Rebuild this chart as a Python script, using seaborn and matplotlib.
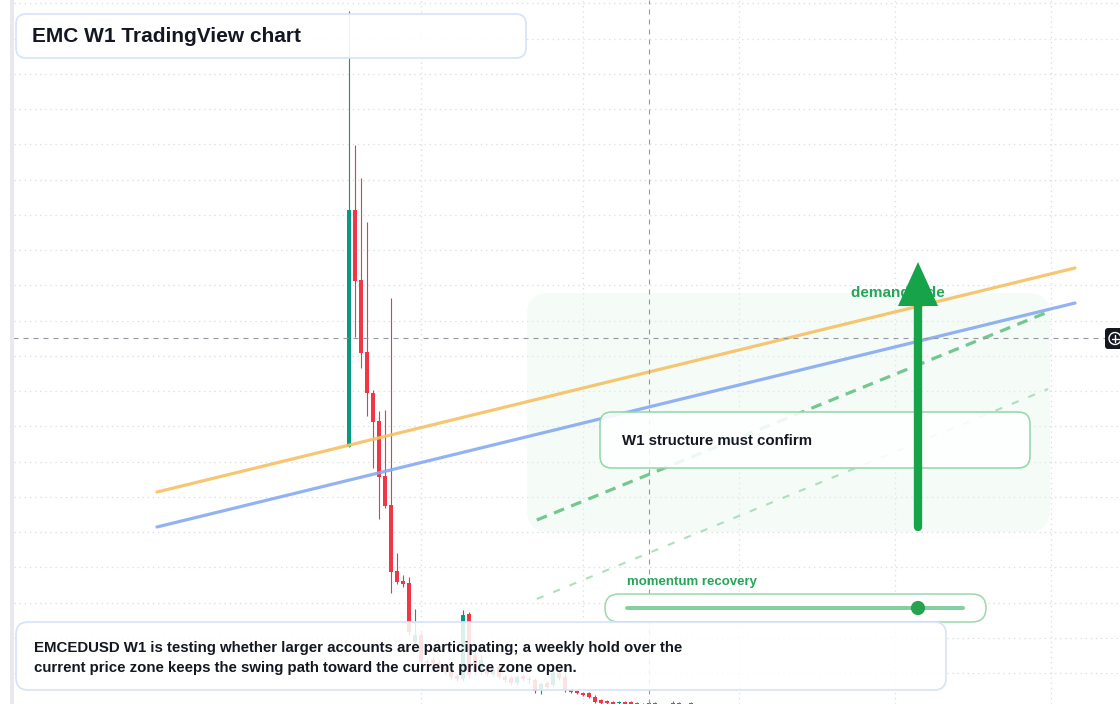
import numpy as np
import pandas as pd
import matplotlib
matplotlib.use("Agg")
import matplotlib.pyplot as plt
import seaborn as sns
from matplotlib.patches import FancyBboxPatch, Rectangle, Polygon, Circle

# weekly EMCEDUSD candles (price)
opens = [3.706, 7.067, 6.074, 5.053, 4.472, 4.074, 3.294, 2.883, 1.947, 1.805,
         1.777, 0.940, 1.039, 0.670, 0.684, 0.642, 0.585, 0.514, 0.457, 0.415,
         1.337, 0.755, 0.514, 0.571, 0.486, 0.585, 0.443, 0.429, 0.358, 0.457,
         0.401, 0.401, 0.259, 0.358, 0.330, 0.500, 0.443, 0.259, 0.245, 0.216,
         0.216, 0.160, 0.117, 0.103, 0.089, 0.074, 0.089, 0.089, 0.074, 0.060,
         0.046, 0.074, 0.046, 0.046, 0.074, 0.074, 0.046, 0.074]
highs = [9.890, 7.989, 7.521, 6.897, 4.514, 4.216, 4.230, 5.819, 2.202, 1.890,
         1.862, 1.408, 1.110, 0.713, 0.727, 0.684, 0.628, 0.543, 0.486, 1.394,
         1.365, 0.826, 0.755, 0.613, 0.571, 0.613, 0.472, 0.457, 0.472, 0.486,
         0.457, 0.429, 0.372, 0.387, 0.543, 0.528, 0.514, 0.273, 0.259, 0.230,
         0.230, 0.188, 0.131, 0.117, 0.103, 0.103, 0.103, 0.103, 0.089, 0.074,
         0.103, 0.089, 0.060, 0.060, 0.103, 0.089, 0.060, 0.089]
lows = [3.706, 5.266, 4.826, 4.145, 3.408, 2.684, 2.840, 1.635, 1.762, 1.720,
        1.039, 0.897, 0.628, 0.613, 0.599, 0.543, 0.486, 0.415, 0.387, 0.387,
        0.429, 0.472, 0.472, 0.457, 0.457, 0.415, 0.372, 0.330, 0.330, 0.387,
        0.344, 0.216, 0.202, 0.273, 0.301, 0.401, 0.230, 0.216, 0.202, 0.174,
        0.145, 0.074, 0.060, 0.060, 0.046, 0.046, 0.032, 0.032, 0.018, 0.018,
        0.032, 0.018, 0.010, 0.010, 0.018, 0.018, 0.010, 0.018]
closes = [7.067, 6.060, 5.039, 4.472, 4.060, 3.280, 2.869, 1.933, 1.791, 1.762,
          1.082, 1.039, 0.656, 0.642, 0.642, 0.571, 0.514, 0.443, 0.415, 1.323,
          0.472, 0.514, 0.684, 0.486, 0.543, 0.443, 0.401, 0.358, 0.443, 0.415,
          0.415, 0.245, 0.344, 0.301, 0.500, 0.429, 0.259, 0.230, 0.216, 0.188,
          0.160, 0.089, 0.074, 0.074, 0.060, 0.089, 0.046, 0.046, 0.032, 0.032,
          0.074, 0.032, 0.018, 0.018, 0.032, 0.032, 0.018, 0.032]

# drawn trend lines (bar index, price)
trend_x = [-32, 121]
resistance_y = [3.067, 6.245]
support_y = [2.571, 5.748]
proj_x = [31.3, 116.5]
proj_upper = [2.670, 5.621]
proj_lower = [1.550, 4.528]

grid_prices = np.arange(0.5, 10.01, 0.5)
grid_bars = [12, 39, 65, 91, 117]
cross_bar, cross_price = 50, 5.252

title = "EMC W1 TradingView chart"
note_lines = ["EMCEDUSD W1 is testing whether larger accounts are participating; a weekly hold over the",
              "current price zone keeps the swing path toward the current price zone open."]

GREEN, RED = "#089981", "#f23645"
TXT = "#131722"
OK_GREEN = "#25a55a"

sns.set_theme(style="white")
plt.rcParams["font.family"] = ["Liberation Sans", "DejaVu Sans"]

W, H = 1120, 704
fig = plt.figure(figsize=(11.2, 7.04), dpi=100)
ax = fig.add_axes([14 / W, 0, 1 - 14 / W, 1])
ov = fig.add_axes([0, 0, 1, 1], zorder=5)
ov.set_xlim(0, W)
ov.set_ylim(H, 0)
ov.axis("off")
ov.patch.set_alpha(0)

# grid
for p in grid_prices:
    ax.axhline(p, color="#dcdfe4", lw=0.9, ls=(0, (1.1, 3.0)), zorder=0)
for b in grid_bars:
    ax.axvline(b, color="#dcdfe4", lw=0.9, ls=(0, (1.1, 3.0)), zorder=0)

# demand zone shading
zone = FancyBboxPatch((527, 293), 523, 239, boxstyle="round,pad=0,rounding_size=22",
                      transform=ov.transData, fc="#e6f7eb", alpha=0.4, ec="none", zorder=1)
ax.add_patch(zone)

# candles
df = pd.DataFrame(dict(open=opens, high=highs, low=lows, close=closes))
df["idx"] = np.arange(len(df))
up = df["close"] >= df["open"]
cols = np.where(up, GREEN, RED)
ax.vlines(df["idx"], df["low"], df["high"], colors=cols, lw=0.8, zorder=3)
body = (df["close"] - df["open"]).abs().clip(lower=0.016)
ax.bar(df["idx"], body, bottom=df[["open", "close"]].min(axis=1), width=0.82,
       color=cols, linewidth=0, zorder=4)

# trend lines
sns.lineplot(x=trend_x, y=resistance_y, ax=ax, color="#f6c064", lw=2.3, alpha=0.9, zorder=5)
sns.lineplot(x=trend_x, y=support_y, ax=ax, color="#86aaf0", lw=2.3, alpha=0.9, zorder=5)
ax.plot(proj_x, proj_upper, color="#5cbf7e", lw=2.3, alpha=0.85, ls=(0, (3.4, 2.4)), zorder=5)
ax.plot(proj_x, proj_lower, color="#a6dcb8", lw=1.5, alpha=0.9, ls=(0, (3.5, 5.0)), zorder=5)

# crosshair
ax.hlines(cross_price, -56, 126, color="#9598a1", lw=0.8, ls=(0, (4.5, 4.5)), zorder=6)
ax.axvline(cross_bar, color="#9598a1", lw=0.8, ls=(0, (4.5, 4.5)), zorder=6)

ax.set_xlim((14 - 349) / 6, (1120 - 349) / 6)
ax.set_ylim(0.5 + (673 - 704) / 70.5, 0.5 + 673 / 70.5)
ax.axis("off")

# overlay: panels, annotations
ov.add_patch(Rectangle((10, 0), 4, H, fc="#e8e9ec", ec="none", zorder=1))

ov.add_patch(FancyBboxPatch((600, 412), 430, 56, boxstyle="round,pad=0,rounding_size=12",
                            fc="white", alpha=0.88, ec="none", zorder=2))
ov.add_patch(FancyBboxPatch((600, 412), 430, 56, boxstyle="round,pad=0,rounding_size=12",
                            fc="none", ec="#93d6a8", lw=1.1, zorder=2))
ov.text(622, 441, "W1 structure must confirm", fontsize=10.8, fontweight="bold",
        color=TXT, va="center", zorder=3)

ov.text(851, 293, "demand side", fontsize=11, fontweight="bold", color=OK_GREEN,
        va="center", zorder=3)
ov.plot([918, 918], [527, 300], color="#16a34a", lw=6.0, solid_capstyle="round", zorder=4)
ov.add_patch(Polygon([(898, 306), (938, 306), (918, 262)], closed=True,
                     fc="#16a34a", ec="none", zorder=4))

ov.text(627, 582, "momentum recovery", fontsize=9.5, fontweight="bold", color=OK_GREEN,
        va="center", zorder=3)
ov.add_patch(FancyBboxPatch((605, 594), 381, 28, boxstyle="round,pad=0,rounding_size=14",
                            fc="white", ec="#9ad8ae", lw=1.1, zorder=2))
ov.plot([627, 963], [608, 608], color="#86cfa0", lw=2.9, zorder=3)
ov.scatter([918], [608], s=105, color="#27a350", edgecolor="none", zorder=4)

ov.add_patch(FancyBboxPatch((16, 14), 510, 44, boxstyle="round,pad=0,rounding_size=10",
                            fc="white", alpha=0.9, ec="none", zorder=2))
ov.add_patch(FancyBboxPatch((16, 14), 510, 44, boxstyle="round,pad=0,rounding_size=10",
                            fc="none", ec="#d5e3fa", lw=1.2, zorder=2))
ov.text(32, 36, title, fontsize=15, fontweight="bold", color=TXT, va="center", zorder=3)

ov.add_patch(FancyBboxPatch((16, 622), 930, 68, boxstyle="round,pad=0,rounding_size=12",
                            fc="white", alpha=0.86, ec="none", zorder=2))
ov.add_patch(FancyBboxPatch((16, 622), 930, 68, boxstyle="round,pad=0,rounding_size=12",
                            fc="none", ec="#d5e3fa", lw=1.2, zorder=2))
ov.text(34, 648, note_lines[0], fontsize=10.8, fontweight="bold", color=TXT, va="center", zorder=3)
ov.text(34, 668, note_lines[1], fontsize=10.8, fontweight="bold", color=TXT, va="center", zorder=3)

# crosshair price-label stub at right edge
ov.add_patch(FancyBboxPatch((1105, 328), 24, 21, boxstyle="round,pad=0,rounding_size=3",
                            fc="#131722", ec="none", zorder=3))
ov.add_patch(Circle((1115, 338.5), 6, fill=False, ec="white", lw=1.0, zorder=4))
ov.plot([1111.5, 1118.5], [338.5, 338.5], color="white", lw=1.0, zorder=4)
ov.plot([1115, 1115], [335, 342], color="white", lw=1.0, zorder=4)

fig.savefig("out.png", dpi=100)
